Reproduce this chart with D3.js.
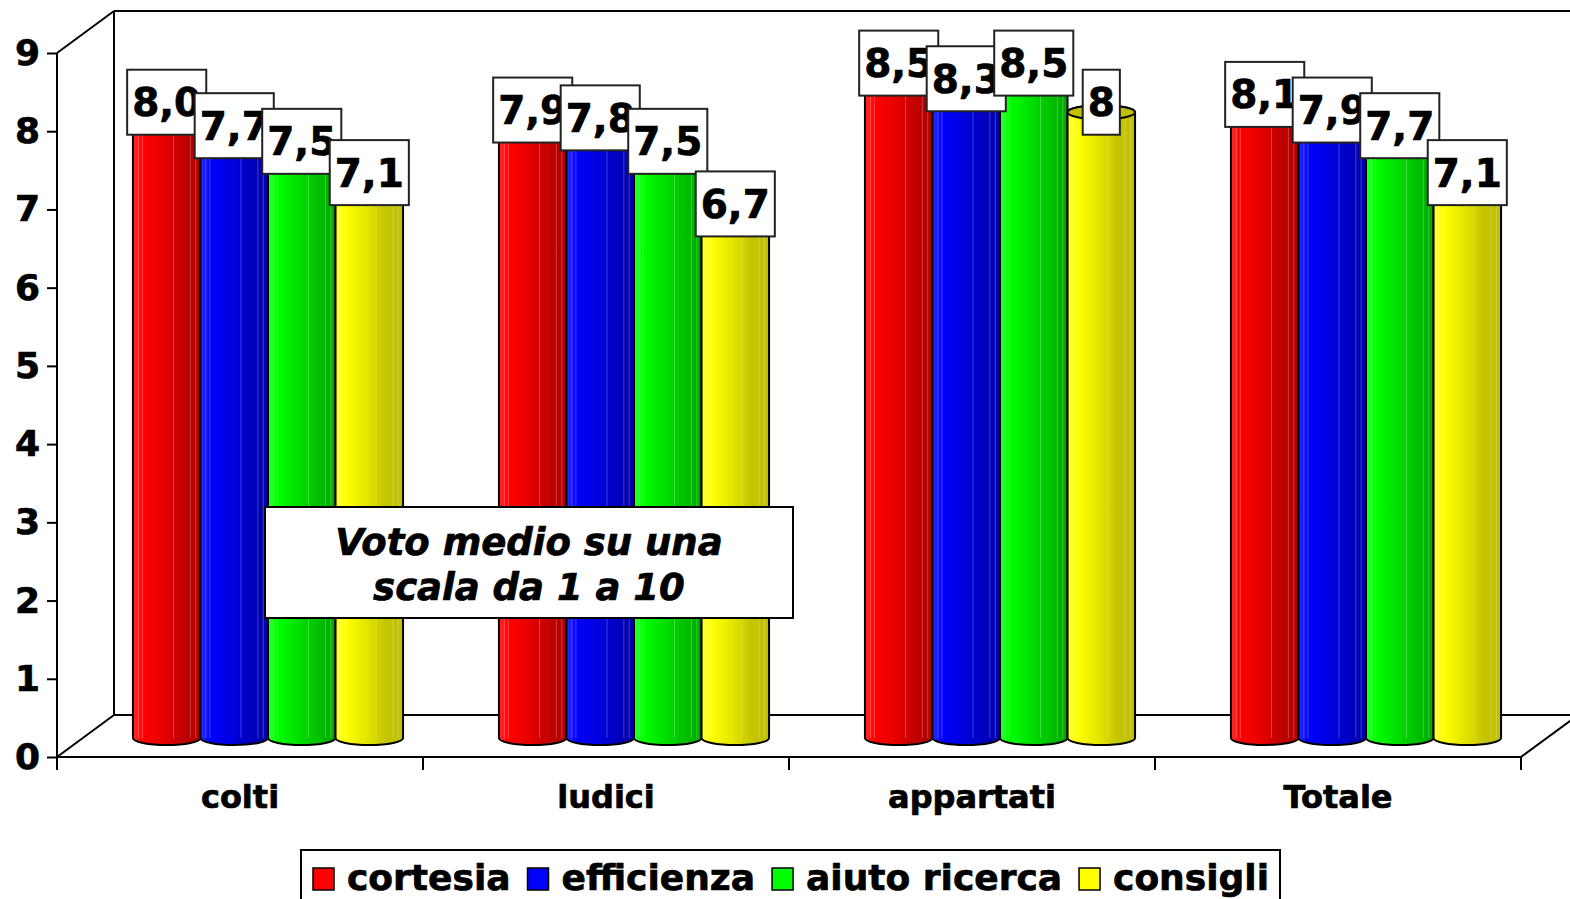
<!DOCTYPE html>
<html>
<head>
<meta charset="utf-8">
<script src="https://cdn.jsdelivr.net/npm/d3@7"></script>
<style>
  html, body { margin: 0; padding: 0; background: #ffffff; }
  svg { display: block; font-family: "DejaVu Sans", Verdana, sans-serif; }
  .heavy { stroke: #000; stroke-width: 0.7px; paint-order: stroke; }
</style>
</head>
<body>
<div id="chart"></div>
<script>
// categories and series
var categories = ["colti", "ludici", "appartati", "Totale"];
var series = ["cortesia", "efficienza", "aiuto ricerca", "consigli"];

// values per series, one per category
var cortesia = [8.0, 7.9, 8.5, 8.1];
var efficienza = [7.7, 7.8, 8.3, 7.9];
var aiutoRicerca = [7.5, 7.5, 8.5, 7.7];
var consigli = [7.1, 6.7, 8.0, 7.1];

// value labels as written on the chart
var labelsCortesia = ["8,0", "7,9", "8,5", "8,1"];
var labelsEfficienza = ["7,7", "7,8", "8,3", "7,9"];
var labelsAiuto = ["7,5", "7,5", "8,5", "7,7"];
var labelsConsigli = ["7,1", "6,7", "8", "7,1"];

var yTicks = [0, 1, 2, 3, 4, 5, 6, 7, 8, 9];
var noteLines = ["Voto medio su una", "scala da 1 a 10"];

var seriesValues = [cortesia, efficienza, aiutoRicerca, consigli];
var seriesLabels = [labelsCortesia, labelsEfficienza, labelsAiuto, labelsConsigli];

// colour ramps (light side -> dark side) for each series
var palettes = [
    { base: "#ff0000", light: "#ff2a2a", mid: "#e60000", dark: "#c00000", top: "#b00000" },
    { base: "#0000ff", light: "#2a2aff", mid: "#0000e0", dark: "#0000c0", top: "#0000a8" },
    { base: "#00ff00", light: "#30ff30", mid: "#00e000", dark: "#00c000", top: "#00a800" },
    { base: "#ffff00", light: "#ffff30", mid: "#e6e600", dark: "#c4c400", top: "#c0c000" }
];

var W = 1570, H = 899;

// 3d depth offset of the back wall
var depthX = 57, depthY = -42;
// bars stand at about half depth
var barDX = 28, barDY = -19;
var ellRY = 7;

var svg = d3.select("#chart").append("svg")
    .attr("width", W)
    .attr("height", H);

var x0 = d3.scaleBand().domain(categories).range([57, 1521]).padding(0);
var x1 = d3.scaleBand().domain(d3.range(series.length)).range([0, x0.bandwidth()]).paddingInner(0).paddingOuter(0.71);
var y = d3.scaleLinear().domain([0, 9]).range([757, 53]);

// gradients
var defs = svg.append("defs");
palettes.forEach(function (p, i) {
    var g = defs.append("linearGradient").attr("id", "grad" + i)
        .attr("x1", "0%").attr("x2", "100%").attr("y1", "0%").attr("y2", "0%");
    g.append("stop").attr("offset", "0%").attr("stop-color", p.light);
    g.append("stop").attr("offset", "15%").attr("stop-color", p.base);
    g.append("stop").attr("offset", "45%").attr("stop-color", p.mid);
    g.append("stop").attr("offset", "75%").attr("stop-color", p.dark);
    g.append("stop").attr("offset", "100%").attr("stop-color", p.top);
});

// walls and floor
var frame = svg.append("g").attr("fill", "none").attr("stroke", "#000").attr("stroke-width", 2);
var xL = x0.range()[0], xR = x0.range()[1];
frame.append("line").attr("x1", xL).attr("y1", y(9)).attr("x2", xL + depthX).attr("y2", y(9) + depthY);
frame.append("line").attr("x1", xL + depthX).attr("y1", y(9) + depthY).attr("x2", xL + depthX).attr("y2", y(0) + depthY);
frame.append("line").attr("x1", xL + depthX).attr("y1", y(9) + depthY).attr("x2", W + 10).attr("y2", y(9) + depthY);
frame.append("line").attr("x1", xL).attr("y1", y(0)).attr("x2", xL + depthX).attr("y2", y(0) + depthY);
frame.append("line").attr("x1", xL + depthX).attr("y1", y(0) + depthY).attr("x2", W + 10).attr("y2", y(0) + depthY);
frame.append("line").attr("x1", xR).attr("y1", y(0)).attr("x2", xR + depthX).attr("y2", y(0) + depthY);

// front y axis
var yAxis = d3.axisLeft(y).tickValues(yTicks).tickSize(10).tickPadding(7).tickFormat(d3.format("d"));
var gy = svg.append("g").attr("transform", "translate(" + xL + ",0)").call(yAxis);
gy.select(".domain").attr("stroke-width", 2).attr("d", "M0," + y(9) + "V" + y(0));
gy.selectAll(".tick line").attr("stroke-width", 2);
gy.selectAll(".tick text")
    .attr("class", "heavy")
    .attr("font-size", 36).attr("font-weight", "bold").attr("fill", "#000")
    .attr("font-family", "DejaVu Sans, Verdana, sans-serif");

// front x axis
var xAxis = d3.axisBottom(x0).tickSize(0).tickPadding(28);
var gx = svg.append("g").attr("transform", "translate(0," + y(0) + ")").call(xAxis);
gx.select(".domain").attr("stroke-width", 2).attr("d", "M" + xL + ",0H" + xR);
gx.selectAll(".tick text")
    .attr("class", "heavy")
    .attr("font-size", 32).attr("font-weight", "bold").attr("fill", "#000")
    .attr("font-family", "DejaVu Sans, Verdana, sans-serif");
// tick marks sit on the category boundaries
gx.selectAll(".sep").data(categories.concat([null])).enter().append("line")
    .attr("class", "sep")
    .attr("x1", function (d, i) { return xL + i * x0.step(); })
    .attr("x2", function (d, i) { return xL + i * x0.step(); })
    .attr("y1", 0).attr("y2", 13)
    .attr("stroke", "#000").attr("stroke-width", 2);

// flat list of bars
var bars = [];
categories.forEach(function (c, ci) {
    series.forEach(function (s, si) {
        bars.push({ cat: c, ci: ci, si: si, value: seriesValues[si][ci], label: seriesLabels[si][ci] });
    });
});

function barLeft(d) { return x0(d.cat) + x1(d.si) + barDX; }
function barTopY(d) { return y(d.value) + barDY; }
var baseY = y(0) + barDY;

var gb = svg.append("g");
var bar = gb.selectAll("g.bar").data(bars).enter().append("g").attr("class", "bar");

bar.append("path")
    .attr("d", function (d) {
        var a = barLeft(d), b = a + x1.bandwidth(), r = x1.bandwidth() / 2, t = barTopY(d);
        return "M" + a + "," + t + "L" + a + "," + baseY +
            "A" + r + "," + ellRY + " 0 0 0 " + b + "," + baseY +
            "L" + b + "," + t +
            "A" + r + "," + ellRY + " 0 0 0 " + a + "," + t + "Z";
    })
    .attr("fill", function (d) { return "url(#grad" + d.si + ")"; })
    .attr("stroke", "#000").attr("stroke-width", 2);

// faint light stripes along the cylinder
var stripePos = [0.08, 0.14, 0.6, 0.85, 0.93];
bar.selectAll("line.stripe").data(function (d) {
    return stripePos.map(function (p) { return { d: d, p: p }; });
}).enter().append("line")
    .attr("class", "stripe")
    .attr("x1", function (e) { return barLeft(e.d) + e.p * x1.bandwidth(); })
    .attr("x2", function (e) { return barLeft(e.d) + e.p * x1.bandwidth(); })
    .attr("y1", function (e) { return barTopY(e.d) + ellRY; })
    .attr("y2", function (e) { return baseY; })
    .attr("stroke", "#ffffff").attr("stroke-opacity", 0.25).attr("stroke-width", 1);

// top ellipse
bar.append("ellipse")
    .attr("cx", function (d) { return barLeft(d) + x1.bandwidth() / 2; })
    .attr("cy", function (d) { return barTopY(d); })
    .attr("rx", x1.bandwidth() / 2)
    .attr("ry", ellRY)
    .attr("fill", function (d) { return palettes[d.si].top; })
    .attr("stroke", "#000").attr("stroke-width", 2);

// value labels
var gl = svg.append("g");
var lab = gl.selectAll("g.lab").data(bars).enter().append("g").attr("class", "lab");
lab.append("text")
    .attr("class", "heavy")
    .attr("x", function (d) { return barLeft(d) + x1.bandwidth() / 2; })
    .attr("y", function (d) { return barTopY(d) - 10 + 14; })
    .attr("text-anchor", "middle")
    .attr("font-size", 39).attr("font-weight", "bold")
    .text(function (d) { return d.label; })
    .each(function (d) { d.tw = this.getComputedTextLength(); });
lab.insert("rect", "text")
    .attr("x", function (d) { return barLeft(d) + x1.bandwidth() / 2 - (d.tw + 10) / 2; })
    .attr("y", function (d) { return barTopY(d) - 10 - 32.5; })
    .attr("width", function (d) { return d.tw + 10; })
    .attr("height", 65)
    .attr("fill", "#fff").attr("stroke", "#222").attr("stroke-width", 2);

// note box
var note = svg.append("g");
note.append("rect").attr("x", 265).attr("y", 507).attr("width", 528).attr("height", 111)
    .attr("fill", "#fff").attr("stroke", "#000").attr("stroke-width", 2);
note.selectAll("text").data(noteLines).enter().append("text")
    .attr("class", "heavy")
    .attr("x", 529).attr("y", function (d, i) { return 555 + i * 45; })
    .attr("text-anchor", "middle")
    .attr("font-size", 37).attr("font-weight", "bold").attr("font-style", "italic")
    .text(function (d) { return d; });

// legend
var leg = svg.append("g");
leg.append("rect").attr("x", 301).attr("y", 850).attr("width", 979).attr("height", 60)
    .attr("fill", "#fff").attr("stroke", "#000").attr("stroke-width", 2);
var lx = 313;
series.forEach(function (s, i) {
    leg.append("rect").attr("x", lx).attr("y", 868).attr("width", 21).attr("height", 22)
        .attr("fill", palettes[i].base).attr("stroke", "#000").attr("stroke-width", 1.5);
    var t = leg.append("text").attr("class", "heavy").attr("x", lx + 34).attr("y", 890)
        .attr("font-size", 36).attr("font-weight", "bold").text(s);
    lx = lx + 34 + t.node().getComputedTextLength() + 17;
});
</script>
</body>
</html>
